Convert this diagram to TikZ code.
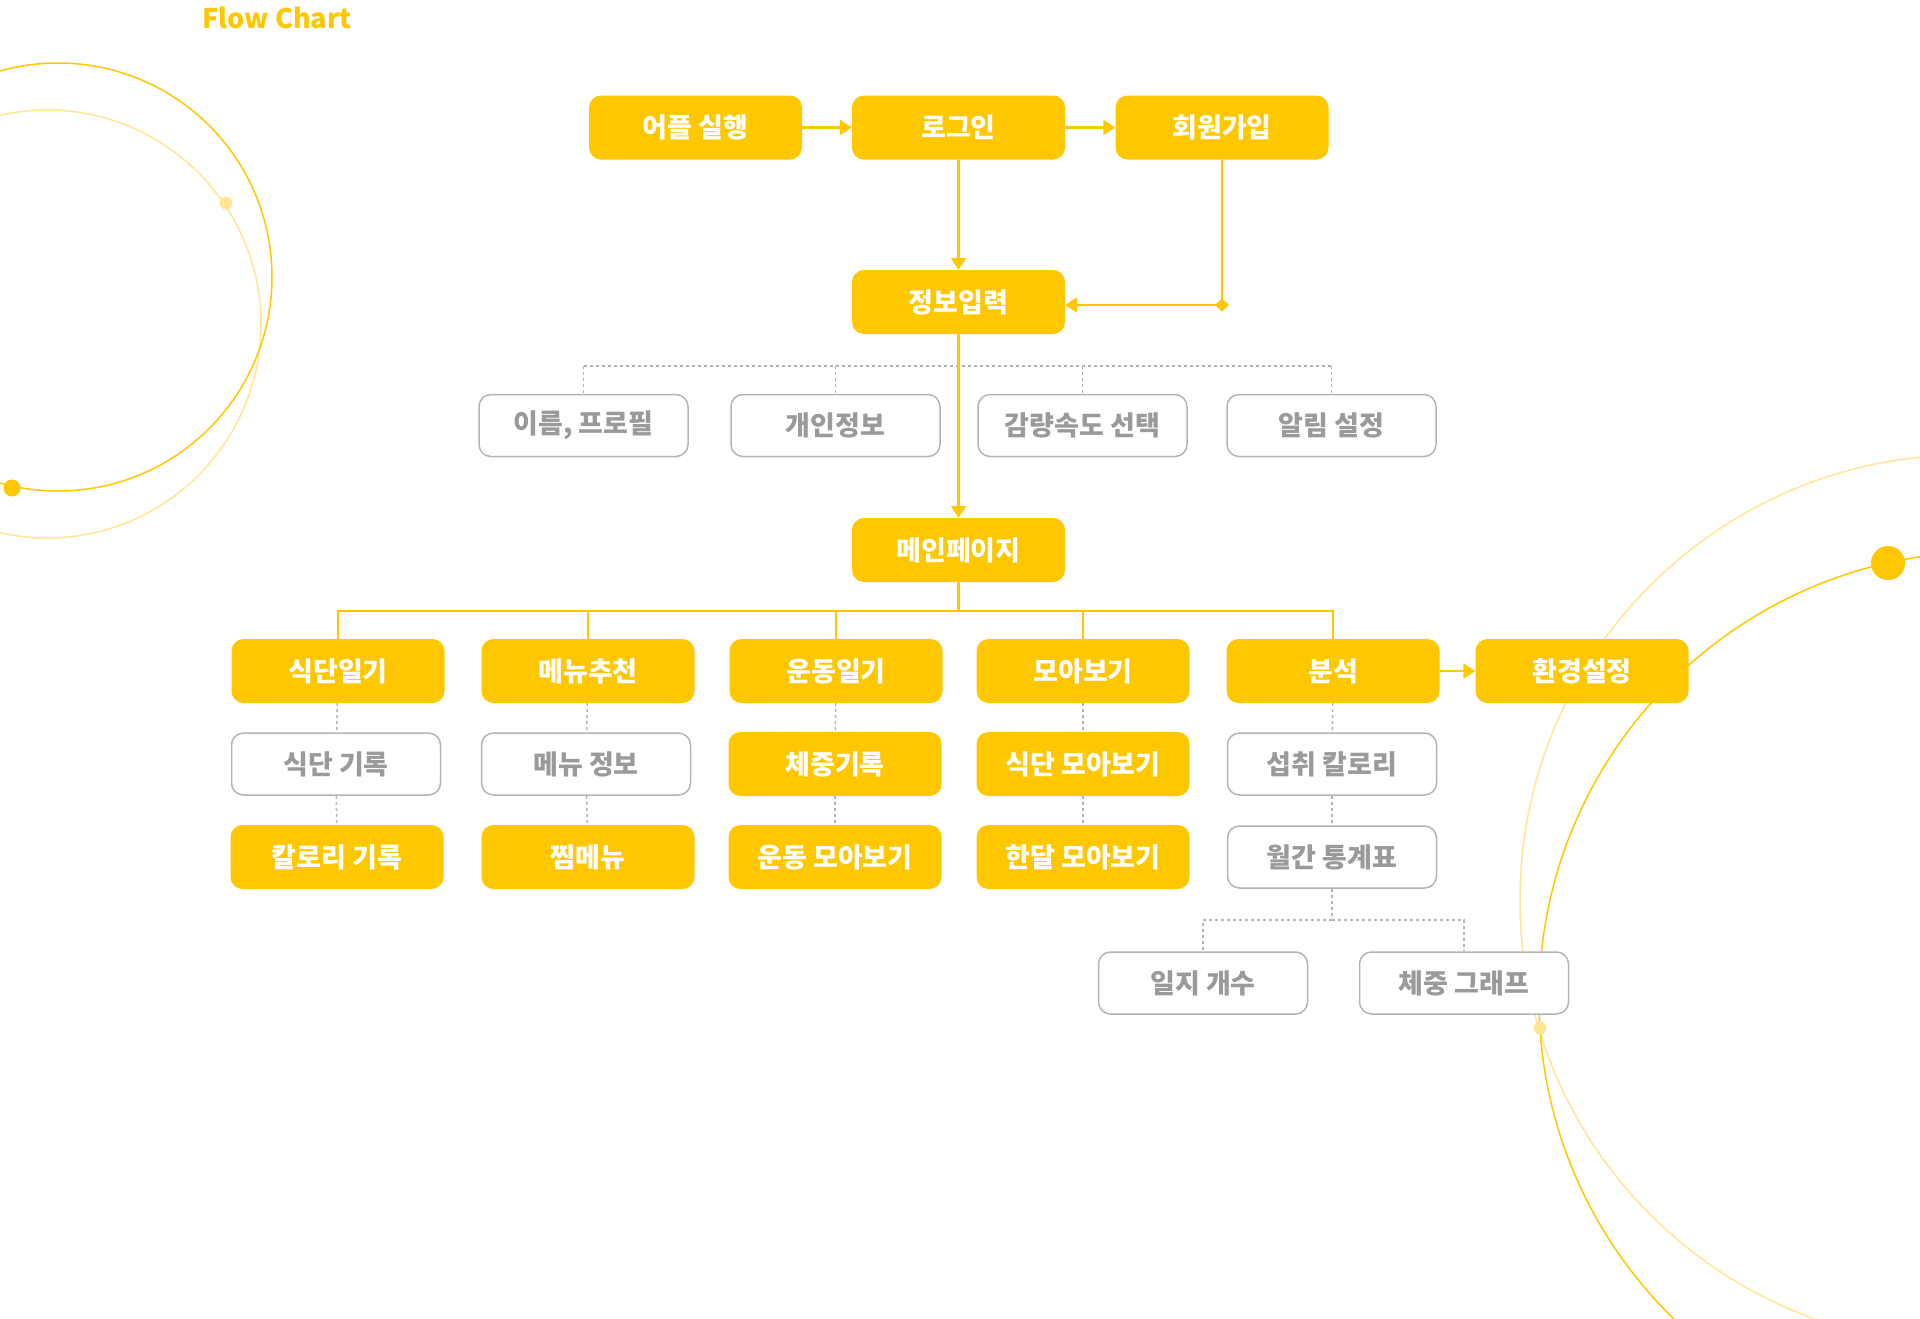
\documentclass[tikz,border=0pt]{standalone}
\usepackage{fontspec}
\setmainfont{Noto Sans CJK KR}
\usetikzlibrary{calc}
\usetikzlibrary{arrows.meta}

\definecolor{mango}{HTML}{FFC700}
\definecolor{mangolight}{HTML}{FFE594}
\definecolor{ash}{HTML}{B4B4B4}
\definecolor{ashtext}{HTML}{9A9A9A}

\begin{document}
\begin{tikzpicture}
        [
        x=1pt, y=-1pt,
        full/.style={fill=mango,rounded corners=12pt,minimum width=213pt,minimum height=64pt,
                inner sep=0pt,text=white,font=\fontsize{27pt}{27pt}\selectfont\bfseries},
        hollow/.style={draw=ash,line width=1.5pt,fill=white,rounded corners=12pt,minimum width=209pt,
                minimum height=62pt,inner sep=0pt,text=ashtext,font=\fontsize{27pt}{27pt}\selectfont\bfseries},
        link/.style={draw=mango,line width=2.5pt},
        dots/.style={draw=ash,line width=1.5pt,dash pattern=on 3pt off 3pt},
        >={Triangle[length=12pt,width=15pt]}
        ]
        \useasboundingbox (0,0) rectangle (1920,1318);

        % background rings
        \begin{scope}
        \clip (0,0) rectangle (1920,1318);
        \draw[mangolight,line width=1.5pt] (47,324) circle[radius=214];
        \draw[mango,line width=1.5pt] (58,277) circle[radius=214];
        \fill[mangolight] (226,203) circle[radius=6.5];
        \fill[mango] (12,488) circle[radius=8.5];
        \draw[mangolight,line width=1.5pt] (1965,900) circle[radius=445];
        \draw[mango,line width=1.5pt] (1986,999) circle[radius=447];
        \fill[mango] (1888,563) circle[radius=17];
        \fill[mangolight] (1540,1028) circle[radius=6.5];
        \end{scope}

        \node[anchor=west,text=mango,font=\fontsize{27pt}{27pt}\selectfont\bfseries] (title) at (199,18) {Flow Chart};

        \node[full] (app)    at (695.5,127.5) {어플 실행};
        \node[full] (login)  at (958.5,127.5) {로그인};
        \node[full] (join)   at (1222,127.5)  {회원가입};
        \node[full] (info)   at (958.5,302)   {정보입력};

        \node[hollow] (i1) at (583.5,425.5)  {이름, 프로필};
        \node[hollow] (i2) at (835.5,425.5)  {개인정보};
        \node[hollow] (i3) at (1082.5,425.5) {감량속도 선택};
        \node[hollow] (i4) at (1331.5,425.5) {알림 설정};

        \node[full] (main) at (958.5,550) {메인페이지};

        \node[full] (c1) at (338,671)  {식단일기};
        \node[full] (c2) at (588,671)  {메뉴추천};
        \node[full] (c3) at (836,671)  {운동일기};
        \node[full] (c4) at (1083,671) {모아보기};
        \node[full] (c5) at (1333,671) {분석};
        \node[full] (c6) at (1582,671) {환경설정};

        \node[hollow] (d1) at (336,764)  {식단 기록};
        \node[hollow] (d2) at (586,764)  {메뉴 정보};
        \node[full]   (d3) at (835,764)  {체중기록};
        \node[full]   (d4) at (1083,764) {식단 모아보기};
        \node[hollow] (d5) at (1332,764) {섭취 칼로리};

        \node[full]   (e1) at (337,857)  {칼로리 기록};
        \node[full]   (e2) at (588,857)  {찜메뉴};
        \node[full]   (e3) at (835,857)  {운동 모아보기};
        \node[full]   (e4) at (1083,857) {한달 모아보기};
        \node[hollow] (e5) at (1332,857) {월간 통계표};

        \node[hollow] (f1) at (1203,983) {일지 개수};
        \node[hollow] (f2) at (1464,983) {체중 그래프};

        \coordinate (jc)   at ($(join.south |- info.east)+(0,3)$);
        \coordinate (jd)   at ($(jc)+(7,0)$);
        \coordinate (ibar) at ($(info.south)+(0,32)$);
        \coordinate (mbar) at ($(main.south)+(0,29)$);
        \coordinate (sbar) at ($(e5.south)+(0,31)$);

        \draw[dots] (i1.north |- ibar) -- (i4.north |- ibar);
        \draw[dots] (i1.north |- ibar) -- (i1.north);
        \draw[dots] (i2.north |- ibar) -- (i2.north);
        \draw[dots] (i3.north |- ibar) -- (i3.north);
        \draw[dots] (i4.north |- ibar) -- (i4.north);

        \draw[dots] (c1) -- (d1);
        \draw[dots] (d1) -- (e1);
        \draw[dots] (c2) -- (d2);
        \draw[dots] (d2) -- (e2);
        \draw[dots] (c3) -- (d3);
        \draw[dots] (d3) -- (e3);
        \draw[dots] (c4) -- (d4);
        \draw[dots] (d4) -- (e4);
        \draw[dots] (c5) -- (d5);
        \draw[dots] (d5) -- (e5);
        \draw[dots] (e5) -- (sbar);
        \draw[dots] (sbar) -| (f1.north);
        \draw[dots] (sbar) -| (f2.north);

        \draw[link,->] (app) -- (login);
        \draw[link,->] (login) -- (join);
        \draw[link,->] (login) -- (info);
        \draw[link] (join.south) -- (jc);
        \draw[link,{Diamond[length=14pt,width=13pt]}->] (jd) -- (info.east |- jd);
        \draw[link,->] (info) -- (main);
        \draw[link] (main.south) -- (mbar);
        \draw[link] (mbar) -| (c1.north);
        \draw[link] (mbar) -| (c2.north);
        \draw[link] (mbar) -| (c3.north);
        \draw[link] (mbar) -| (c4.north);
        \draw[link] (mbar) -| (c5.north);
        \draw[link,->] (c5) -- (c6);
\end{tikzpicture}
\end{document}
